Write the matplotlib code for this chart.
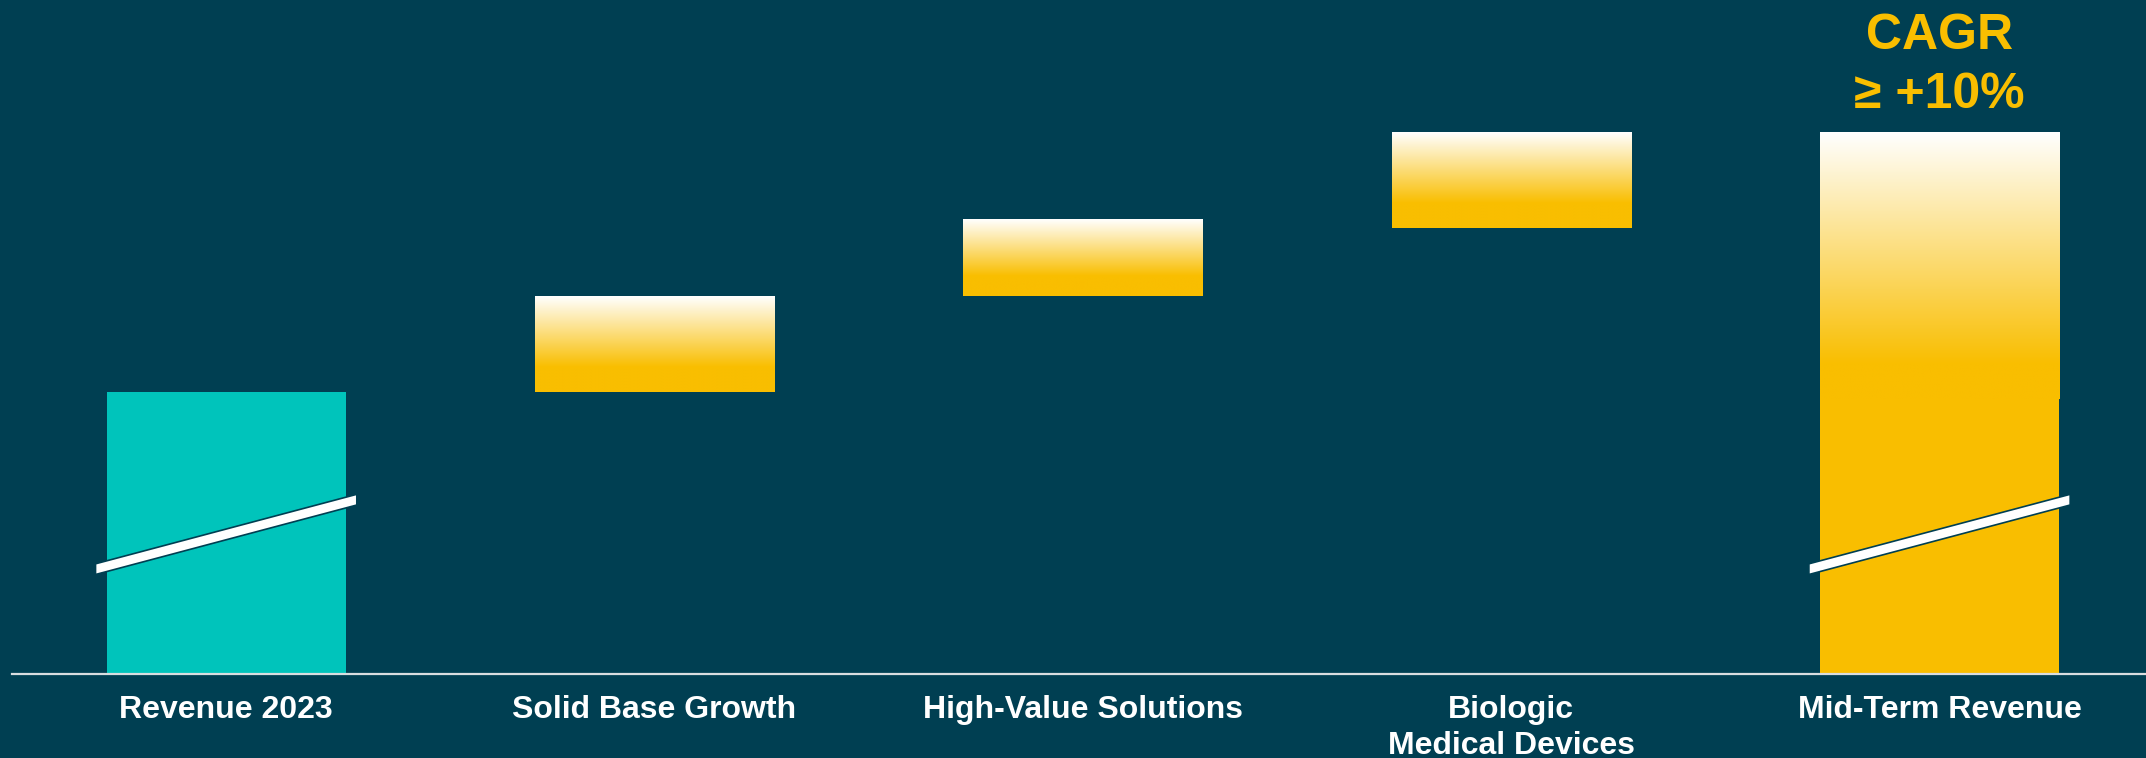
import numpy as np
import matplotlib
matplotlib.use("Agg")
import matplotlib.pyplot as plt
from matplotlib.patches import Polygon

# ---------------- data (schematic revenue bridge, Revenue 2023 = 100) ----------------
categories = ["Revenue 2023", "Solid Base Growth", "High-Value Solutions",
              "Biologic\nMedical Devices", "Mid-Term Revenue"]
bar_bottoms = [0, 100, 134, 158, 0]
bar_tops = [100, 134, 161, 192, 192]
bar_kinds = ["base", "step", "step", "step", "total"]
cagr_label = "CAGR\n≥ +10%"

# ---------------- style ----------------
BG = "#003F52"
TEAL = "#00C4BB"
YELLOW = "#F9BE00"
AXIS = "#D9DDE0"
BAR_W = 0.558

plt.rcParams["font.family"] = ["Liberation Sans", "DejaVu Sans"]

fig = plt.figure(figsize=(21.46, 7.58), dpi=100, facecolor=BG)
ax = fig.add_axes([12 / 2146, 84 / 758, 1 - 12 / 2146, 674 / 758])
ax.set_facecolor(BG)


def gradient_bar(x, bottom, top, solid_frac):
    # white at the top fading into yellow, solid yellow near the bottom
    n = 256
    t = np.linspace(0, 1, n)
    k = np.clip(t / solid_frac, 0, 1)
    white = np.array([1.0, 1.0, 1.0])
    yel = np.array(matplotlib.colors.to_rgb(YELLOW))
    img = white + (yel - white) * k[:, None]
    img = img[:, None, :]
    ax.imshow(img, extent=(x - BAR_W / 2, x + BAR_W / 2, bottom, top),
              origin="upper", aspect="auto", interpolation="bilinear", zorder=2)


def axis_break(x, y_mid):
    # slanted white band across the bar
    half = BAR_W / 2 + 0.026
    slope = 40.4
    th = 3.8
    pts = [(x - half, y_mid - slope * half - th / 2),
           (x - half, y_mid - slope * half + th / 2),
           (x + half, y_mid + slope * half + th / 2),
           (x + half, y_mid + slope * half - th / 2)]
    ax.add_patch(Polygon(pts, closed=True, facecolor="white", edgecolor=BG,
                         linewidth=1.2, zorder=4))


xs = np.arange(len(categories))
for x, b, t, kind in zip(xs, bar_bottoms, bar_tops, bar_kinds):
    if kind == "base":
        ax.bar(x, t - b, bottom=b, width=BAR_W, color=TEAL, zorder=2)
        axis_break(x, 49.5)
    elif kind == "step":
        gradient_bar(x, b, t, 0.74)
    else:
        ax.bar(x, t - b, bottom=b, width=BAR_W, color=YELLOW, zorder=2)
        gradient_bar(x, bar_tops[0] - 2.5, t, 0.87)
        axis_break(x, 49.5)

ax.text(xs[-1], 215.8, cagr_label, ha="center", va="center", color=YELLOW,
        fontsize=36, fontweight="bold", linespacing=1.35)

ax.set_xlim(-0.5, 4.482)
ax.set_ylim(0, 239)
ax.set_xticks(xs)
ax.set_xticklabels(categories, color="white", fontsize=23, fontweight="bold",
                   linespacing=1.25)
ax.tick_params(axis="x", length=0, pad=15)
ax.set_yticks([])
for s in ["top", "left", "right"]:
    ax.spines[s].set_visible(False)
ax.spines["bottom"].set_color(AXIS)
ax.spines["bottom"].set_linewidth(1.6)
ax.spines["bottom"].set_zorder(5)

fig.savefig("out.png", dpi=100, facecolor=BG)
